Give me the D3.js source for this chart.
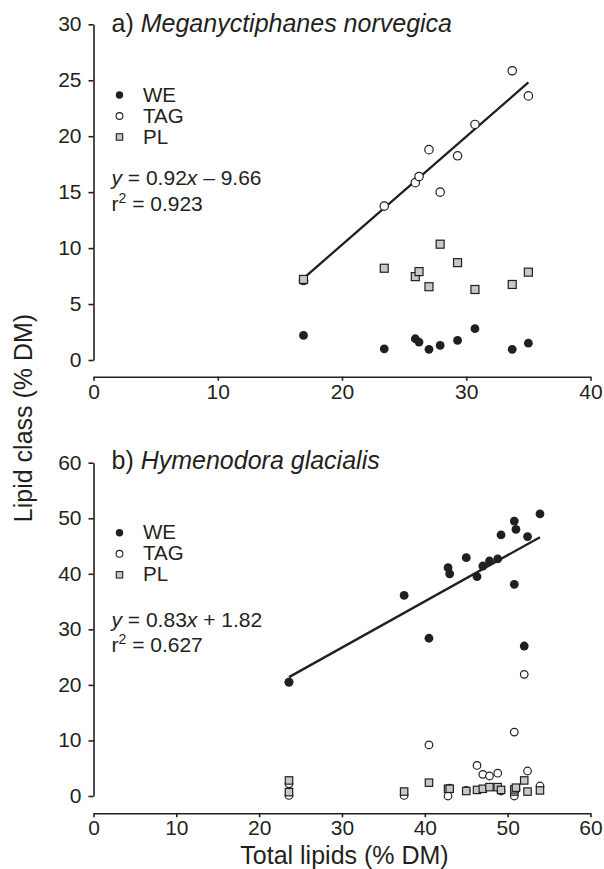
<!DOCTYPE html>
<html>
<head>
<meta charset="utf-8">
<script src="https://cdn.jsdelivr.net/npm/d3@7"></script>
<style>
  body { margin: 0; background: #fff; }
  text { font-family: "Liberation Sans", Arial, Helvetica, sans-serif; fill: #231f20; }
  .axis path, .axis line { stroke: #231f20; stroke-width: 1.6; }
</style>
</head>
<body>
<div id="chart"></div>
<script>
// panel a) Meganyctiphanes norvegica
const aTotal = [16.9, 23.4, 25.9, 26.2, 27.0, 27.9, 29.3, 30.7, 33.7, 35.0];
const aWE    = [2.2, 1.0, 1.9, 1.6, 0.95, 1.3, 1.75, 2.8, 0.95, 1.5];
const aTAG   = [7.1, 13.75, 15.85, 16.4, 18.8, 15.0, 18.25, 21.05, 25.85, 23.6];
const aPL    = [7.2, 8.2, 7.45, 7.9, 6.55, 10.35, 8.7, 6.3, 6.75, 7.85];
const aFit   = [[16.9, 7.3], [35.0, 24.8]];
const aXTicks = [0, 10, 20, 30, 40];
const aYTicks = [0, 5, 10, 15, 20, 25, 30];

// panel b) Hymenodora glacialis
const bTotal = [23.6, 23.6, 37.5, 40.5, 42.8, 43.0, 45.0, 46.3, 47.0, 47.8, 48.8, 49.2, 50.8, 50.8, 51.0, 52.0, 52.4, 53.9];
const bWE    = [20.5, 20.5, 36.1, 28.4, 41.1, 40.0, 42.9, 39.5, 41.4, 42.3, 42.7, 47.0, 38.1, 49.5, 48.0, 27.0, 46.7, 50.8];
const bTAG   = [0.1, 2.2, 0.1, 9.2, 0.0, 1.4, 1.0, 5.5, 3.9, 3.6, 4.1, 0.9, 11.5, 0.0, 1.2, 21.9, 4.5, 1.8];
const bPL    = [0.7, 2.8, 0.8, 2.4, 1.3, 1.3, 0.9, 1.1, 1.3, 1.6, 1.6, 1.1, 0.8, 1.2, 1.5, 2.8, 0.8, 1.0];
const bFit   = [[23.6, 21.4], [53.9, 46.6]];
const bXTicks = [0, 10, 20, 30, 40, 50, 60];
const bYTicks = [0, 10, 20, 30, 40, 50, 60];

const legendLabels = ['WE', 'TAG', 'PL'];

const W = 604, H = 869;
const svg = d3.select('#chart').append('svg').attr('width', W).attr('height', H);

function drawPanel(p) {
  const x = d3.scaleLinear().domain(p.xDomain).range([93.5, 590.5]);
  const y = d3.scaleLinear().domain(p.yDomain).range(p.yRange);
  const g = svg.append('g');

  // y axis
  const ya = g.append('g').attr('class', 'axis')
    .attr('transform', 'translate(93.5,0)')
    .call(d3.axisLeft(y).tickValues(p.yTicks).tickSize(5).tickSizeOuter(0).tickPadding(7));
  // x axis, offset below the plot
  g.append('g').attr('class', 'axis')
    .attr('transform', 'translate(0,' + p.xAxisY + ')')
    .call(d3.axisBottom(x).tickValues(p.xTicks).tickSize(4).tickSizeOuter(0).tickPadding(3));
  g.selectAll('.axis text').style('font-size', '21px').attr('fill', '#231f20');
  ya.selectAll('text').attr('dy', '0.3em');

  // regression line
  g.append('line')
    .attr('x1', x(p.fit[0][0])).attr('y1', y(p.fit[0][1]))
    .attr('x2', x(p.fit[1][0])).attr('y2', y(p.fit[1][1]))
    .attr('stroke', '#231f20').attr('stroke-width', 2.3);

  const pts = (vals) => p.total.map((t, i) => [t, vals[i]]);
  g.selectAll('circle.we').data(pts(p.we)).enter().append('circle')
    .attr('class', 'we').attr('cx', d => x(d[0])).attr('cy', d => y(d[1]))
    .attr('r', 4.4).attr('fill', '#231f20');
  g.selectAll('circle.tag').data(pts(p.tag)).enter().append('circle')
    .attr('class', 'tag').attr('cx', d => x(d[0])).attr('cy', d => y(d[1]))
    .attr('r', p.openR).attr('fill', '#fff').attr('stroke', '#231f20').attr('stroke-width', 1.2);
  g.selectAll('rect.pl').data(pts(p.pl)).enter().append('rect')
    .attr('class', 'pl')
    .attr('x', d => x(d[0]) - p.sq / 2).attr('y', d => y(d[1]) - p.sq / 2)
    .attr('width', p.sq).attr('height', p.sq)
    .attr('fill', '#c8c8c8').attr('stroke', '#231f20').attr('stroke-width', 1.2);

  // title
  const t = g.append('text').attr('x', 111.5).attr('y', p.titleY).style('font-size', '25px');
  t.append('tspan').text(p.label + ' ');
  t.append('tspan').style('font-style', 'italic').text(p.species);

  // legend
  const lg = g.append('g');
  legendLabels.forEach((lab, i) => {
    const ly = p.legendY + i * 21;
    if (i === 0) lg.append('circle').attr('cx', 119.5).attr('cy', ly - 6.5).attr('r', 3.7).attr('fill', '#231f20');
    if (i === 1) lg.append('circle').attr('cx', 119.5).attr('cy', ly - 6.5).attr('r', 3.4).attr('fill', '#fff').attr('stroke', '#231f20').attr('stroke-width', 1.1);
    if (i === 2) lg.append('rect').attr('x', 116.3).attr('y', ly - 9.7).attr('width', 6.4).attr('height', 6.4).attr('fill', '#c8c8c8').attr('stroke', '#231f20').attr('stroke-width', 1.1);
    lg.append('text').attr('x', 143).attr('y', ly).style('font-size', '20.5px').text(lab);
  });

  // equation
  const e = g.append('text').attr('x', 111.5).attr('y', p.eqY).style('font-size', '21px');
  e.append('tspan').style('font-style', 'italic').text('y');
  e.append('tspan').text(' = ' + p.slope);
  e.append('tspan').style('font-style', 'italic').text('x');
  e.append('tspan').text(' ' + p.intercept);
  const r = g.append('text').attr('x', 111.5).attr('y', p.eqY + 25.5).style('font-size', '21px');
  r.append('tspan').text('r');
  r.append('tspan').attr('dy', -8).style('font-size', '14px').text('2');
  r.append('tspan').attr('dy', 8).text(' = ' + p.r2);
}

drawPanel({
  label: 'a)', species: 'Meganyctiphanes norvegica',
  total: aTotal, we: aWE, tag: aTAG, pl: aPL, fit: aFit,
  xDomain: [0, 40], yDomain: [0, 30], yRange: [360, 24.3],
  xTicks: aXTicks, yTicks: aYTicks, xAxisY: 376.7,
  titleY: 31.5, legendY: 101.5, eqY: 185, openR: 4.2, sq: 8,
  slope: '0.92', intercept: '– 9.66', r2: '0.923'
});

drawPanel({
  label: 'b)', species: 'Hymenodora glacialis',
  total: bTotal, we: bWE, tag: bTAG, pl: bPL, fit: bFit,
  xDomain: [0, 60], yDomain: [0, 60], yRange: [796, 462.7],
  xTicks: bXTicks, yTicks: bYTicks, xAxisY: 813.3,
  titleY: 469.3, legendY: 539.3, eqY: 626.7, openR: 3.8, sq: 7.4,
  slope: '0.83', intercept: '+ 1.82', r2: '0.627'
});

// shared axis titles
svg.append('text')
  .attr('transform', 'translate(32,418) rotate(-90)')
  .attr('text-anchor', 'middle').style('font-size', '25px')
  .text('Lipid class (% DM)');
svg.append('text')
  .attr('x', 344.5).attr('y', 864)
  .attr('text-anchor', 'middle').style('font-size', '25px')
  .text('Total lipids (% DM)');
</script>
</body>
</html>
